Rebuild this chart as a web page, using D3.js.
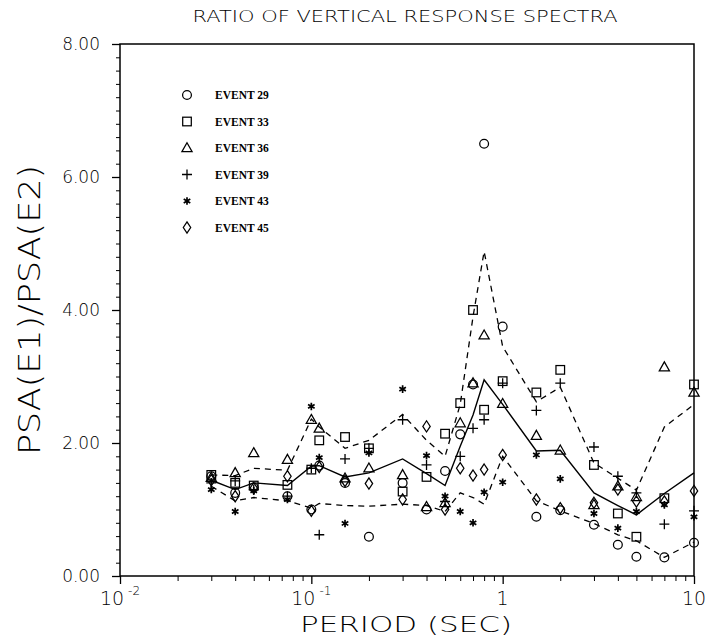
<!DOCTYPE html>
<html><head><meta charset="utf-8">
<script src="https://cdn.jsdelivr.net/npm/d3@7"></script>
<style>body{margin:0;background:#fff}</style>
</head><body>
<svg id="c" width="718" height="642"></svg>
<script>
const periods = [0.03,0.04,0.05,0.075,0.1,0.11,0.15,0.2,0.3,0.4,0.5,0.6,0.7,0.8,1,1.5,2,3,4,5,7,10];
const ev29 = [1.50,1.25,1.33,1.20,1.00,1.66,1.40,0.59,1.40,1.00,1.58,2.13,2.88,6.50,3.75,0.89,0.99,0.77,0.47,0.29,0.28,0.50];
const ev33 = [1.52,1.40,1.36,1.37,1.60,2.04,2.09,1.92,1.27,1.49,2.14,2.60,4.00,2.50,2.93,2.76,3.10,1.67,0.94,0.59,1.17,2.88];
const ev36 = [1.48,1.55,1.85,1.75,2.35,2.22,1.47,1.62,1.52,1.04,1.10,2.30,2.90,3.62,2.59,2.11,1.89,1.07,1.35,1.19,3.14,2.76];
const ev39 = [1.40,1.43,1.30,1.20,1.62,0.62,1.76,1.92,2.35,1.67,1.12,1.80,2.22,2.35,2.90,2.49,2.90,1.94,1.50,1.25,0.78,0.98];
const ev43 = [1.30,0.97,1.28,1.15,2.55,1.78,0.79,1.85,2.81,1.81,1.20,0.97,0.80,1.26,1.41,1.82,1.46,0.94,0.72,0.97,1.07,0.89];
const ev45 = [1.44,1.20,1.32,1.50,0.98,1.64,1.43,1.39,1.15,2.25,1.00,1.62,1.51,1.60,1.82,1.15,1.02,1.10,1.30,1.12,1.12,1.28];
const meanLine  = [1.44,1.30,1.40,1.36,1.65,1.66,1.49,1.55,1.76,1.54,1.36,1.95,2.42,2.95,2.58,1.88,1.89,1.25,1.06,0.92,1.24,1.55];
const upperLine = [1.52,1.51,1.62,1.59,2.36,2.24,1.92,2.04,2.43,2.04,1.80,2.58,3.90,4.88,3.45,2.62,2.84,1.70,1.47,1.29,2.24,2.58];
const lowerLine = [1.35,1.13,1.18,1.13,1.02,1.09,1.06,1.05,1.08,1.06,0.97,1.25,1.18,1.08,1.80,1.13,0.98,0.79,0.62,0.53,0.28,0.51];
const eventNames = ["EVENT 29","EVENT 33","EVENT 36","EVENT 39","EVENT 43","EVENT 45"];
const eventSymbols = ["circle","square","triangle","plus","asterisk","diamond"];
const yTicks = [0,2,4,6,8];
const yTickLabels = ["0.00","2.00","4.00","6.00","8.00"];
const xTicks = [0.01,0.1,1,10];
const xTickBase = ["10","10","1","10"];
const xTickExp = ["-2","-1","",""];
const titleText = "RATIO OF VERTICAL RESPONSE SPECTRA";
const xTitle = "PERIOD (SEC)";
const yTitle = "PSA(E1)/PSA(E2)";

const m={left:120,right:694,top:44,bottom:576};
const svg=d3.select("#c");
const x=d3.scaleLog().domain([0.01,10]).range([m.left,m.right]);
const y=d3.scaleLinear().domain([0,8]).range([m.bottom,m.top]);
const FONT="'DejaVu Sans', 'Liberation Sans', sans-serif";

svg.append("text").attr("x",405).attr("y",22).attr("text-anchor","middle")
  .attr("font-family",FONT).attr("font-weight",200).attr("font-size",15)
  .attr("textLength",425).attr("lengthAdjust","spacingAndGlyphs").text(titleText);

svg.append("rect").attr("x",m.left).attr("y",m.top).attr("width",m.right-m.left).attr("height",m.bottom-m.top)
  .attr("fill","none").attr("stroke","#000").attr("stroke-width",1.5);

const yAxis=d3.axisLeft(y).tickValues(yTicks).tickFormat((d,i)=>yTickLabels[i]).tickSize(8).tickPadding(12);
const gy=svg.append("g").attr("transform",`translate(${m.left},0)`).call(yAxis);
gy.select(".domain").remove();
gy.selectAll("text").attr("font-family",FONT).attr("font-weight",200).attr("font-size",17).attr("fill","#000");
gy.selectAll("line").attr("stroke-width",1.3);
const yMinor=d3.range(0,8.001,0.2).filter(v=>Math.abs(v-Math.round(v/2)*2)>1e-6);
svg.append("g").attr("transform",`translate(${m.left},0)`).call(d3.axisLeft(y).tickValues(yMinor).tickSize(4).tickFormat(""))
  .call(g=>g.select(".domain").remove()).selectAll("line").attr("stroke-width",1);

const xMinor=[];
[0.01,0.1,1].forEach(b=>{for(let k=2;k<=9;k++)xMinor.push(b*k);});
svg.append("g").attr("transform",`translate(0,${m.bottom})`).call(d3.axisBottom(x).tickValues(xMinor).tickSize(5).tickFormat(""))
  .call(g=>g.select(".domain").remove()).selectAll("line").attr("stroke-width",1);
const gx=svg.append("g").attr("transform",`translate(0,${m.bottom})`).call(d3.axisBottom(x).tickValues(xTicks).tickSize(8).tickFormat(""));
gx.select(".domain").remove();
gx.selectAll("line").attr("stroke-width",1.3);
xTicks.forEach((t,i)=>{
  const tx=svg.append("text").attr("x",x(t)).attr("y",m.bottom+29).attr("text-anchor","middle")
    .attr("font-family",FONT).attr("font-weight",200).attr("font-size",19);
  tx.append("tspan").text(xTickBase[i]);
  if(xTickExp[i]) tx.append("tspan").attr("dy",-10).attr("font-size",12).attr("dx",4).text(xTickExp[i]);
});

svg.append("text").attr("x",406).attr("y",632).attr("text-anchor","middle")
  .attr("font-family",FONT).attr("font-weight",200).attr("font-size",22)
  .attr("textLength",212).attr("lengthAdjust","spacingAndGlyphs").text(xTitle);
svg.append("text").attr("transform",`translate(40,${(m.top+m.bottom)/2}) rotate(-90)`).attr("text-anchor","middle")
  .attr("font-family",FONT).attr("font-weight",200).attr("font-size",30)
  .attr("textLength",290).attr("lengthAdjust","spacingAndGlyphs").text(yTitle);

const lineGen=d3.line().x(d=>x(d[0])).y(d=>y(d[1]));
const plot=svg.append("g");
plot.append("path").attr("d",lineGen(periods.map((p,i)=>[p,meanLine[i]]))).attr("fill","none").attr("stroke","#000").attr("stroke-width",1.4);
[upperLine,lowerLine].forEach(arr=>{
  plot.append("path").attr("d",lineGen(periods.map((p,i)=>[p,arr[i]]))).attr("fill","none").attr("stroke","#000")
    .attr("stroke-width",1.3).attr("stroke-dasharray","6,5");
});

function sym(g,type,cx,cy){
  const s="#000",w=1.25;
  if(type==="circle") g.append("circle").attr("cx",cx).attr("cy",cy).attr("r",4.4).attr("fill","none").attr("stroke",s).attr("stroke-width",w);
  else if(type==="square") g.append("rect").attr("x",cx-4.3).attr("y",cy-4.3).attr("width",8.6).attr("height",8.6).attr("fill","none").attr("stroke",s).attr("stroke-width",w);
  else if(type==="triangle") g.append("path").attr("d",`M${cx},${cy-5.3}L${cx+5.1},${cy+3.7}L${cx-5.1},${cy+3.7}Z`).attr("fill","none").attr("stroke",s).attr("stroke-width",w);
  else if(type==="plus") g.append("path").attr("d",`M${cx-5},${cy}H${cx+5}M${cx},${cy-5}V${cy+5}`).attr("stroke",s).attr("stroke-width",1.3);
  else if(type==="asterisk"){
    const r=3.8;let d=`M${cx},${cy-r}V${cy+r}`;
    [30,150].forEach(a=>{const dx=r*Math.cos(a*Math.PI/180),dy=r*Math.sin(a*Math.PI/180);d+=`M${cx-dx},${cy-dy}L${cx+dx},${cy+dy}`;});
    g.append("path").attr("d",d).attr("stroke",s).attr("stroke-width",1.7);
  }
  else if(type==="diamond") g.append("path").attr("d",`M${cx},${cy-5.6}L${cx+3.7},${cy}L${cx},${cy+5.6}L${cx-3.7},${cy}Z`).attr("fill","none").attr("stroke",s).attr("stroke-width",w);
}
const allEvents=[ev29,ev33,ev36,ev39,ev43,ev45];
allEvents.forEach((arr,k)=>{
  const g=svg.append("g");
  periods.forEach((p,i)=>sym(g,eventSymbols[k],x(p),y(arr[i])));
});

const lg=svg.append("g");
eventNames.forEach((n,k)=>{
  const ly=95+k*26.5;
  sym(lg,eventSymbols[k],187,ly);
  lg.append("text").attr("x",215).attr("y",ly+4).attr("font-family","'Liberation Serif', 'DejaVu Serif', serif")
    .attr("font-weight","bold").attr("font-size",11.5).text(n);
});
</script>
</body></html>
